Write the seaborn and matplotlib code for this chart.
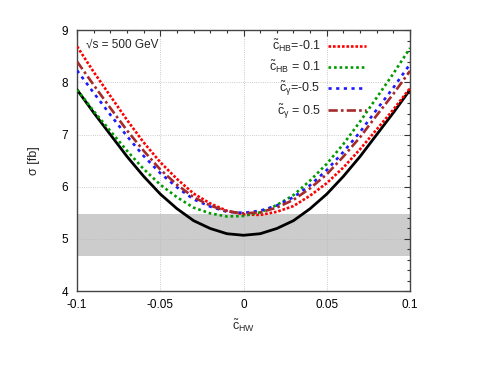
import pandas as pd
import seaborn as sns
import matplotlib.pyplot as plt
from matplotlib.ticker import MultipleLocator

# values
c_hw = [-0.10, -0.09, -0.08, -0.07, -0.06, -0.05, -0.04, -0.03, -0.02, -0.01, 0.00,
        0.01, 0.02, 0.03, 0.04, 0.05, 0.06, 0.07, 0.08, 0.09, 0.10]
sm = [7.86, 7.42, 7.00, 6.58, 6.20, 5.86, 5.58, 5.35, 5.20, 5.10, 5.07,
      5.10, 5.20, 5.35, 5.58, 5.86, 6.20, 6.58, 7.00, 7.42, 7.86]
hb_m01 = [8.69, 8.20, 7.74, 7.28, 6.85, 6.47, 6.15, 5.87, 5.68, 5.54, 5.47,
          5.46, 5.52, 5.63, 5.83, 6.07, 6.37, 6.72, 7.10, 7.48, 7.89]
hb_p01 = [7.86, 7.45, 7.07, 6.69, 6.34, 6.04, 5.80, 5.60, 5.49, 5.43, 5.44,
          5.51, 5.65, 5.84, 6.12, 6.44, 6.82, 7.25, 7.71, 8.17, 8.66]
cg_m05 = [8.23, 7.80, 7.38, 6.97, 6.59, 6.26, 5.99, 5.76, 5.62, 5.52, 5.50,
          5.54, 5.64, 5.80, 6.03, 6.32, 6.67, 7.05, 7.48, 7.90, 8.35]
cg_p05 = [8.40, 7.95, 7.51, 7.08, 6.69, 6.33, 6.04, 5.80, 5.64, 5.53, 5.49,
          5.51, 5.60, 5.75, 5.97, 6.24, 6.58, 6.95, 7.37, 7.78, 8.22]
band_lo, band_hi = 4.68, 5.48

series_labels = [r'$\tilde{\mathrm{c}}_{\mathrm{HB}}$=-0.1',
                 r'$\tilde{\mathrm{c}}_{\mathrm{HB}}$ = 0.1',
                 r'$\tilde{\mathrm{c}}_{\gamma}$=-0.5',
                 r'$\tilde{\mathrm{c}}_{\gamma}$ = 0.5']
xtick_vals = [-0.1, -0.05, 0, 0.05, 0.1]
xtick_labels = ['-0.1', '-0.05', '0', '0.05', '0.1']
ytick_vals = [4, 5, 6, 7, 8, 9]

sns.set_style('white')
plt.rcParams['font.family'] = ['Liberation Sans', 'DejaVu Sans']
plt.rcParams['mathtext.fontset'] = 'custom'
plt.rcParams['mathtext.rm'] = 'Liberation Sans'
plt.rcParams['mathtext.it'] = 'Liberation Sans:italic'
plt.rcParams['mathtext.default'] = 'regular'
plt.rcParams['axes.unicode_minus'] = False

frames = []
for lab, vals in zip(series_labels, [hb_m01, hb_p01, cg_m05, cg_p05]):
    frames.append(pd.DataFrame({'c_HW': c_hw, 'sigma': vals, 'coupling': lab}))
df = pd.concat(frames, ignore_index=True)

palette = dict(zip(series_labels, ['#ff0000', '#009a00', '#1a1aff', '#a52a2a']))
dashes = dict(zip(series_labels, [(1, 0.7), (1, 1.1), (1.2, 1.7), (3.5, 1.2, 1, 1.2)]))

fig = plt.figure(figsize=(4.91, 3.79), dpi=100)
ax = fig.add_axes([0.157, 0.232, 0.678, 0.688])

ax.axhspan(band_lo, band_hi, color='#cccccc', lw=0, zorder=0)
sns.lineplot(x=c_hw, y=sm, color='black', lw=2, ax=ax, legend=False, zorder=3)
sns.lineplot(data=df, x='c_HW', y='sigma', hue='coupling', style='coupling',
             palette=palette, dashes=dashes, lw=1.9, ax=ax, sort=False, zorder=4)

ax.set_xlim(-0.1, 0.1)
ax.set_ylim(4, 9)
ax.set_xticks(xtick_vals)
ax.set_xticklabels(xtick_labels)
ax.set_yticks(ytick_vals)
ax.xaxis.set_minor_locator(MultipleLocator(0.01))
ax.yaxis.set_minor_locator(MultipleLocator(0.2))
ax.tick_params(which='both', direction='in', top=True, right=True, colors='#333333',
               labelcolor='black', labelsize=8.5)
ax.tick_params(axis='x', pad=5.5)
ax.tick_params(axis='y', pad=6.5)
ax.tick_params(which='major', length=4, width=0.8)
ax.tick_params(which='minor', length=2.2, width=0.8)
for s in ax.spines.values():
    s.set_color('#444444')
    s.set_linewidth(1)
ax.grid(True, which='major', color='#bbbbbb', ls=':', lw=0.6)

ax.set_xlabel(r'$\tilde{\mathrm{c}}_{\mathrm{HW}}$', fontsize=9)
ax.set_ylabel('σ [fb]', fontsize=9)
ax.xaxis.set_label_coords(0.5, -0.1)
ax.yaxis.set_label_coords(-0.11, 0.5)

ax.text(0.027, 0.944, '√s = 500 GeV', transform=ax.transAxes, fontsize=8.5,
        va='center', ha='left')

handles, labels = ax.get_legend_handles_labels()
leg = ax.legend(handles, labels, loc='upper right', bbox_to_anchor=(0.89, 1.0),
                markerfirst=False, frameon=False, fontsize=9, handlelength=3.0,
                handletextpad=0.6, labelspacing=0.35, borderaxespad=0.2)

fig.savefig('out.png', dpi=100)
